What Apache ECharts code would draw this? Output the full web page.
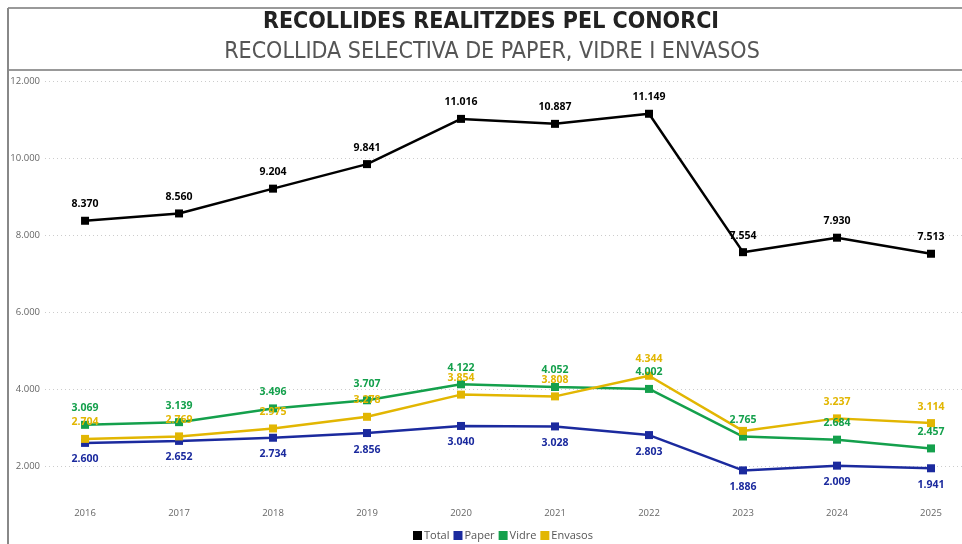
<!DOCTYPE html>
<html>
<head>
<meta charset="utf-8">
<script src="https://cdn.jsdelivr.net/npm/echarts@6/dist/echarts.min.js"></script>
<style>
html,body{margin:0;padding:0;background:#fff;}
#chart{width:962px;height:544px;}
</style>
</head>
<body>
<div id="chart"></div>
<script>
// dades
var years = [2016, 2017, 2018, 2019, 2020, 2021, 2022, 2023, 2024, 2025];
var total = [8370, 8560, 9204, 9841, 11016, 10887, 11149, 7554, 7930, 7513];
var paper = [2600, 2652, 2734, 2856, 3040, 3028, 2803, 1886, 2009, 1941];
var vidre = [3069, 3139, 3496, 3707, 4122, 4052, 4002, 2765, 2684, 2457];
var envasos = [2704, 2769, 2975, 3278, 3854, 3808, 4344, 2912, 3237, 3114];
var yTicks = [2000, 4000, 6000, 8000, 10000, 12000];

// etiquetes amagades (com al original)
var hiddenLabels = {Envasos: [7]};

function fmt(v){
    return String(Math.round(v)).replace(/\B(?=(\d{3})+(?!\d))/g, '.');
}

function serie(name, values, color, pos){
    var hide = hiddenLabels[name] || [];
    var data = [];
    for(var i=0;i<years.length;i++){
        var item = {value: [years[i], values[i]]};
        if(hide.indexOf(i) >= 0){
            item.label = {show: false};
        }
        data.push(item);
    }
    return {
        name: name,
        type: 'line',
        data: data,
        clip: false,
        symbol: 'rect',
        symbolSize: 8,
        lineStyle: {width: 2.5, color: color},
        itemStyle: {color: color},
        label: {
            show: true,
            position: pos,
            distance: 7,
            color: color,
            fontFamily: 'Open Sans',
            fontWeight: 'bold',
            fontSize: 10.5,
            formatter: function(p){ return fmt(p.value[1]); }
        },
        emphasis: {disabled: true}
    };
}

var chart = echarts.init(document.getElementById('chart'));
var option = {
    animation: false,
    backgroundColor: '#fff',
    graphic: [
        {type: 'line', shape: {x1: 8, y1: 8, x2: 962, y2: 8}, style: {stroke: '#999', lineWidth: 2}},
        {type: 'line', shape: {x1: 8, y1: 70, x2: 962, y2: 70}, style: {stroke: '#999', lineWidth: 2}},
        {type: 'line', shape: {x1: 8, y1: 8, x2: 8, y2: 544}, style: {stroke: '#888', lineWidth: 2}},
        {type: 'text', x: 491, y: 22, style: {text: 'RECOLLIDES REALITZDES PEL CONORCI', fill: '#222', font: 'bold 23px "DejaVu Sans Condensed"', textAlign: 'center', textVerticalAlign: 'middle'}},
        {type: 'text', x: 492, y: 52, style: {text: 'RECOLLIDA SELECTIVA DE PAPER, VIDRE I ENVASOS', fill: '#555', font: '23px "DejaVu Sans Condensed"', textAlign: 'center', textVerticalAlign: 'middle'}}
    ],
    legend: {
        bottom: -2,
        left: 408,
        itemWidth: 9,
        itemHeight: 9,
        itemGap: 4,
        icon: 'rect',
        textStyle: {color: '#555', fontSize: 11, fontFamily: 'Open Sans', padding: [0, 0, 0, -3]},
        data: ['Total', 'Paper', 'Vidre', 'Envasos']
    },
    grid: {left: 45, right: 0, top: 81, bottom: 78, containLabel: false},
    xAxis: {
        type: 'value',
        min: 2015.574,
        max: 2025.33,
        axisLine: {show: false},
        axisTick: {show: false},
        splitLine: {show: false},
        axisLabel: {
            customValues: years,
            margin: 42,
            color: '#666',
            fontSize: 9.5,
            fontFamily: 'Open Sans',
            formatter: function(v){ return String(v); }
        }
    },
    yAxis: {
        type: 'value',
        min: 2000,
        max: 12000,
        interval: 2000,
        axisLine: {show: false},
        axisTick: {show: false},
        axisLabel: {
            customValues: yTicks,
            margin: 5,
            color: '#666',
            fontSize: 9.5,
            fontFamily: 'Open Sans',
            formatter: function(v){ return fmt(v); }
        },
        splitLine: {lineStyle: {color: '#ccc', type: [1, 3], width: 1}}
    },
    series: [
        serie('Total', total, '#000000', 'top'),
        serie('Paper', paper, '#1B2A9E', 'bottom'),
        serie('Vidre', vidre, '#14A04C', 'top'),
        serie('Envasos', envasos, '#E2B602', 'top')
    ]
};
chart.setOption(option);
</script>
</body>
</html>
